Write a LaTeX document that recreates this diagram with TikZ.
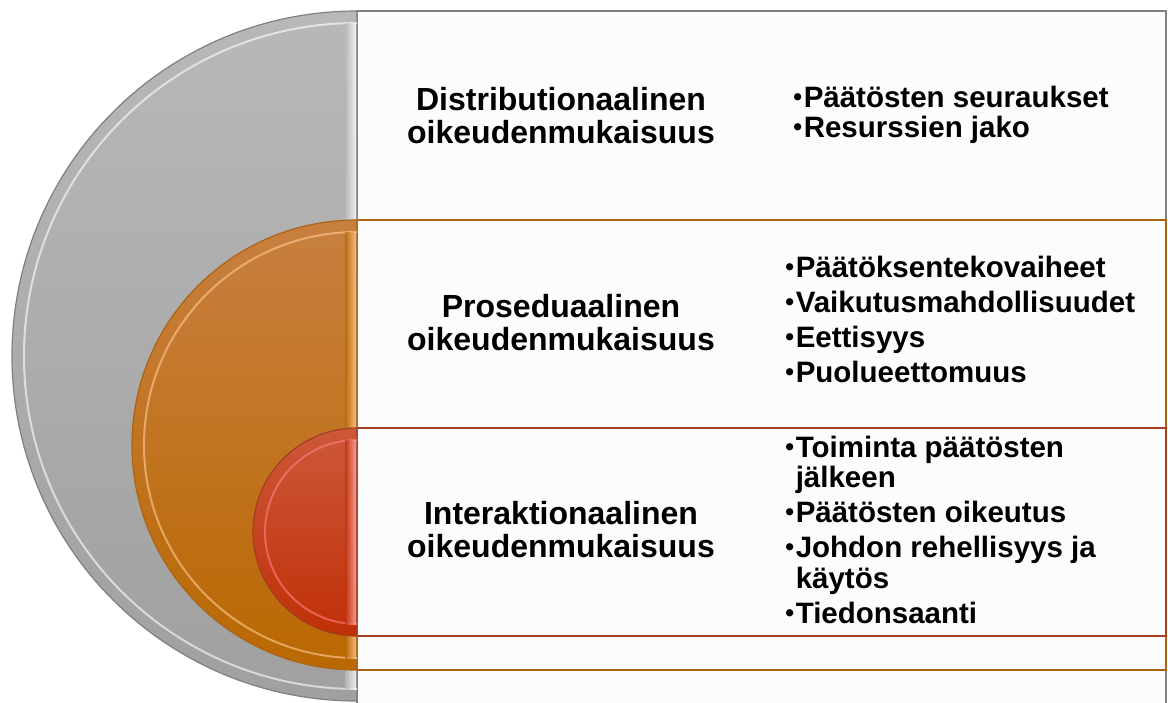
\documentclass[tikz,border=0pt]{standalone}
\usepackage{fontspec}
\setmainfont{Liberation Sans}
\usepackage{xcolor}
\definecolor{ojgray}{RGB}{184,184,184}
\definecolor{ojgraydark}{RGB}{160,160,160}
\definecolor{ojgrayline}{RGB}{128,128,128}
\definecolor{ojorange}{RGB}{200,128,64}
\definecolor{ojorangedark}{RGB}{186,104,2}
\definecolor{ojorangeline}{RGB}{170,100,20}
\definecolor{ojred}{RGB}{204,88,58}
\definecolor{ojreddark}{RGB}{192,48,8}
\definecolor{ojredline}{RGB}{165,62,32}
\definecolor{ojpaper}{RGB}{252,252,252}
\usetikzlibrary{positioning}
\newcommand{\ojdot}{{\fontsize{12.5}{12.5}\selectfont\raisebox{0.8pt}{•}}\hspace{0.8pt}}

\tikzset{
  ojlabel/.style={font=\fontsize{16}{16.5}\selectfont\bfseries, align=center, inner sep=0pt},
  ojlist/.style={font=\fontsize{14.75}{15.25}\selectfont\bfseries, align=left, inner sep=0pt, anchor=base west},
  ojbox/.style={fill=ojpaper, line width=1pt},
  ojshine/.style={white, opacity=0.6, line width=1pt}
}

\begin{document}
\begin{tikzpicture}[x=0.5pt, y=-0.5pt]
  \useasboundingbox (0,0) rectangle (1168,702);

  % Text boxes behind the half discs
  \draw[ojbox, draw=ojgrayline]   (357,11)  rectangle (1166,704);
  \draw[ojbox, draw=ojorangeline] (357,220) rectangle (1166,670);
  \draw[ojbox, draw=ojredline]    (357,428) rectangle (1166,636);

  % Gray half disc (outer)
  \shadedraw[top color=ojgray, bottom color=ojgraydark, draw=ojgrayline, line width=0.6pt]
       (357,11) arc[start angle=270, end angle=90, radius=345] -- cycle;
  \draw[ojshine] (357,23) arc[start angle=270, end angle=90, radius=333];
  \shade[left color=ojgray, right color=white, opacity=0.8] (345,23) rectangle (356,689);

  % Orange half disc (middle)
  \shadedraw[top color=ojorange, bottom color=ojorangedark, draw=ojorangeline, line width=0.6pt]
       (357,220) arc[start angle=270, end angle=90, radius=225] -- cycle;
  \draw[ojshine, white!60!orange] (357,232) arc[start angle=270, end angle=90, radius=213];
  \shade[left color=ojorangedark, right color=orange!40!white, opacity=0.8] (345,232) rectangle (356,658);

  % Red half disc (inner)
  \shadedraw[top color=ojred, bottom color=ojreddark, draw=ojredline, line width=0.6pt]
       (357,428) arc[start angle=270, end angle=90, radius=104] -- cycle;
  \draw[ojshine, white!50!red] (357,440) arc[start angle=270, end angle=90, radius=92];
  \shade[left color=ojreddark, right color=red!30!white, opacity=0.8] (345,440) rectangle (356,624);

  % Headings
  \node[ojlabel] (dist)  at (561,116) {Distributionaalinen\\oikeudenmukaisuus};
  \node[ojlabel] (pros)  at (561,323) {Proseduaalinen\\oikeudenmukaisuus};
  \node[ojlabel] (inter) at (561,530) {Interaktionaalinen\\oikeudenmukaisuus};

  % Bullet lists (anchored at the baseline of the last line)
  \node[ojlist, font=\fontsize{14.75}{15}\selectfont\bfseries] (distlist) at (793,137)
       {\ojdot Päätösten seuraukset\\\ojdot Resurssien jako};
  \node[ojlist] (proslist) at (785,382)
       {\ojdot Päätöksentekovaiheet\\[2.25pt]\ojdot Vaikutusmahdollisuudet\\[2.25pt]%
        \ojdot Eettisyys\\[2.25pt]\ojdot Puolueettomuus};
  \node[ojlist] (interlist) at (785,623)
       {\ojdot Toiminta päätösten\\\phantom{\ojdot}jälkeen\\[2.25pt]\ojdot Päätösten oikeutus\\[2.25pt]%
        \ojdot Johdon rehellisyys ja\\\phantom{\ojdot}käytös\\[2.25pt]\ojdot Tiedonsaanti};
\end{tikzpicture}
\end{document}
